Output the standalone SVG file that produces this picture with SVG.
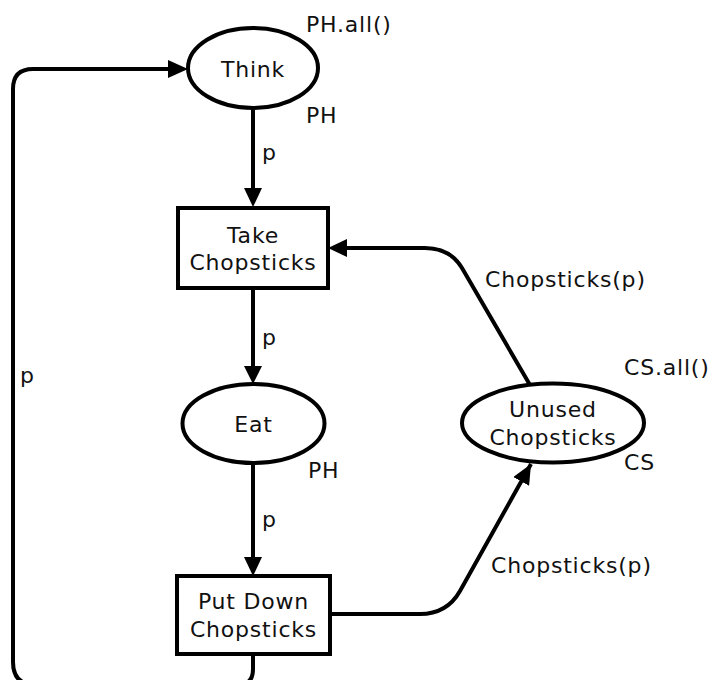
<svg xmlns="http://www.w3.org/2000/svg" width="713" height="680" viewBox="0 0 713 680">
<style>
.shape{fill:#fff;stroke:#000;stroke-width:4}
.arc{fill:none;stroke:#000;stroke-width:4;stroke-linejoin:round}
text{font-family:"DejaVu Sans",Verdana,sans-serif;font-size:22px;letter-spacing:0.8px;fill:#111}
.c{text-anchor:middle}
</style>
<defs>
<marker id="ah" viewBox="0 0 20 18" refX="20" refY="9" markerWidth="20" markerHeight="18" markerUnits="userSpaceOnUse" orient="auto">
<path d="M0,0 L20,9 L0,18 Z" fill="#000"/>
</marker>
</defs>
<g id="connectors">
<path class="arc" d="M253,108 L253,188" />
<path d="M244,188 L262,188 L253,207 Z" fill="#000"/>
<path class="arc" d="M253,288 L253,366" />
<path d="M244,366 L262,366 L253,384 Z" fill="#000"/>
<path class="arc" d="M253,463 L253,557" />
<path d="M244,557 L262,557 L253,576 Z" fill="#000"/>
<path class="arc" d="M253,654 L253,669 Q253,685 238,685 L36,685 Q13,685 13,662 L13,89 Q13,69 33,69 L168,69" />
<path d="M168,60 L188,69 L168,78 Z" fill="#000"/>
<path class="arc" d="M530,385 L462,268 Q450,248 425,248 L347,248" />
<path d="M347,239 L328,248 L347,257 Z" fill="#000"/>
<path class="arc" d="M330,614 L420,614 Q447,614 460,591 L531,464" marker-end="url(#ah)"/>
<text x="262" y="160">p</text>
<text x="262" y="345">p</text>
<text x="262" y="527">p</text>
<text x="20" y="383">p</text>
<text x="485" y="287">Chopsticks(p)</text>
<text x="491" y="573">Chopsticks(p)</text>
</g>
<g id="think">
<ellipse class="shape" cx="253" cy="68" rx="65" ry="40"/>
<text class="c" x="253" y="77">Think</text>
<text x="306" y="32">PH.all()</text>
<text x="306" y="123">PH</text>
</g>
<g id="take">
<rect class="shape" x="178" y="208" width="150" height="80"/>
<text class="c" x="253" y="243">Take</text>
<text class="c" x="253" y="270">Chopsticks</text>
</g>
<g id="eat">
<ellipse class="shape" cx="253.5" cy="423.5" rx="71" ry="39.5"/>
<text class="c" x="253.5" y="432">Eat</text>
<text x="308" y="478">PH</text>
</g>
<g id="putdown">
<rect class="shape" x="177" y="576" width="153" height="78"/>
<text class="c" x="253.5" y="609">Put Down</text>
<text class="c" x="253.5" y="637">Chopsticks</text>
</g>
<g id="unused">
<ellipse class="shape" cx="553" cy="423" rx="91" ry="39.5"/>
<text class="c" x="553" y="417">Unused</text>
<text class="c" x="553" y="445">Chopsticks</text>
<text x="624" y="375">CS.all()</text>
<text x="624" y="470">CS</text>
</g>
</svg>
